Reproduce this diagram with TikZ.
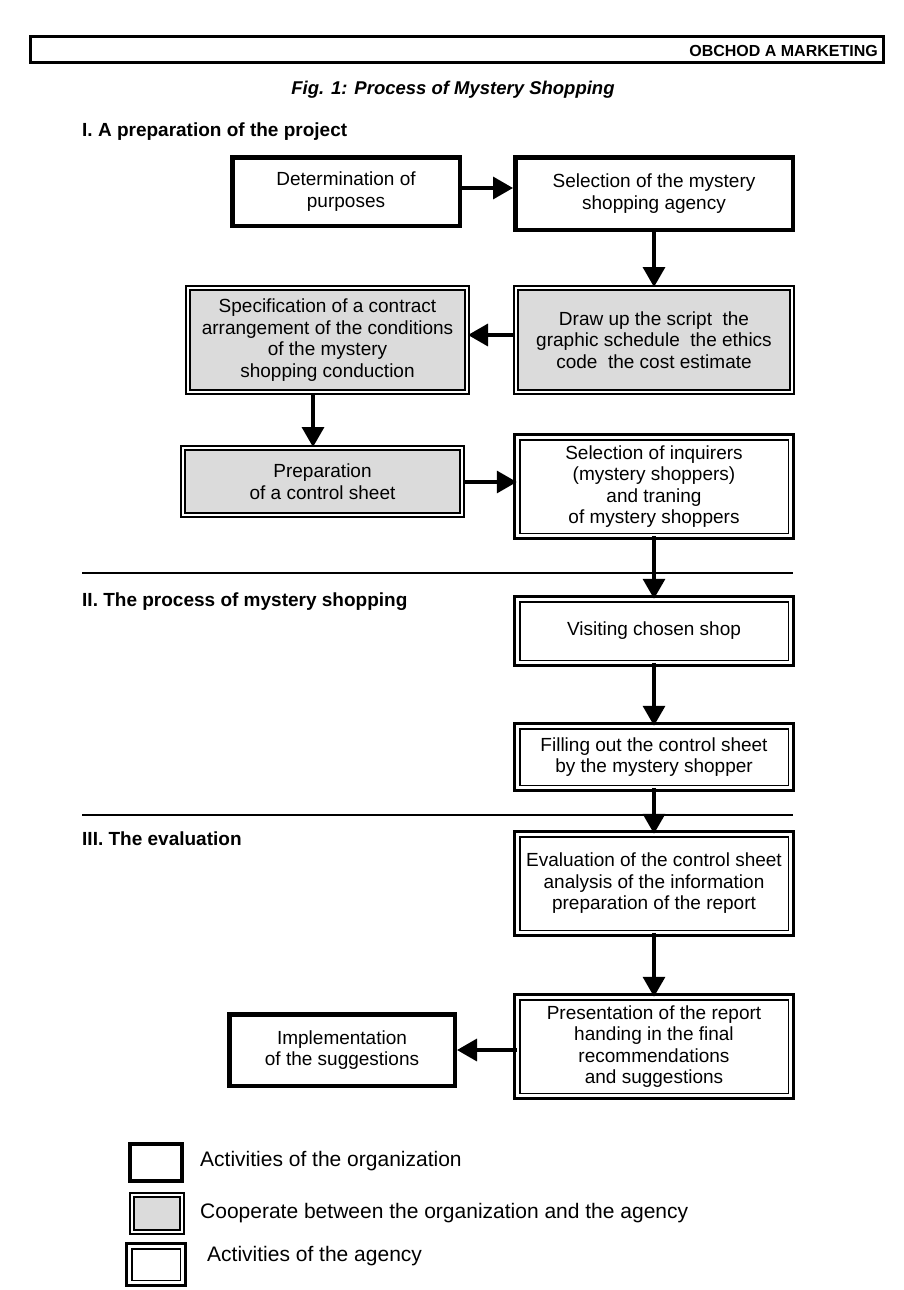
\documentclass[tikz,border=0pt]{standalone}
\usepackage{fontspec}
\setmainfont{Liberation Sans}
\usetikzlibrary{arrows.meta}
\begin{document}
\begin{tikzpicture}[x=1pt,y=-1pt,
  boxbase/.style={inner sep=0pt, align=center, font=\fontsize{19}{21.5}\selectfont},
  orgbox/.style={boxbase, draw=black, line width=4.5pt, fill=white},
  coopbox/.style={boxbase, draw=black, fill=gray!28, double=white, double distance=2pt, line width=2pt},
  agbox/.style={boxbase, draw=black, fill=white, double=white, double distance=3pt, line width=1.5pt,
     preaction={draw=black, line width=9pt}},
  arr/.style={line width=3.5pt, -{Triangle[length=20pt,width=22pt]}},
  sep/.style={line width=1.6pt},
  head/.style={font=\bfseries\fontsize{19}{22}\selectfont, anchor=west, inner sep=0pt},
  legtext/.style={font=\fontsize{21}{24}\selectfont, anchor=west, inner sep=0pt}
]
\useasboundingbox (0,0) rectangle (904,1290);

% header
\node[draw=black, line width=2.6pt, minimum width=853pt, minimum height=26pt, inner sep=0pt] (header) at (457,49.5) {};
\node[font=\bfseries\fontsize{16}{18}\selectfont, anchor=east, inner sep=0pt] (headtext) at (878,51) {OBCHOD A MARKETING};
\node[font=\bfseries\itshape\fontsize{18.5}{21}\selectfont, inner sep=0pt] (caption) at (453,90) {Fig. 1: Process of Mystery Shopping};

% section headings
\node[head] (h1) at (82,132) {I. A preparation of the project};
\node[head] (h2) at (82,602) {II. The process of mystery shopping};
\node[head] (h3) at (82,839) {III. The evaluation};

% separators
\coordinate (s1a) at (82,573); \coordinate (s1b) at (793,573);
\coordinate (s2a) at (82,815); \coordinate (s2b) at (793,815);
\draw[sep] (s1a) -- (s1b);
\draw[sep] (s2a) -- (s2b);

% boxes
\node[orgbox, minimum width=227.5pt, minimum height=68.5pt] (det) at (346,191.5) {Determination of\\purposes};
\node[orgbox, minimum width=277.5pt, minimum height=72.5pt] (sela) at (654,193.5) {Selection of the mystery\\shopping agency};
\node[coopbox, minimum width=276pt, minimum height=104pt] (drw) at (654,340) {Draw up the script\ \ the\\graphic schedule\ \ the ethics\\code\ \ the cost estimate};
\node[coopbox, minimum width=279pt, minimum height=104pt] (spec) at (327.5,340) {Specification of a contract\\arrangement of the conditions\\of the mystery\\shopping conduction};
\node[coopbox, minimum width=279pt, minimum height=67pt] (prep) at (322.5,481.5) {Preparation\\of a control sheet};
\node[agbox, minimum width=273pt, minimum height=98pt] (seli) at (654,486.5) {Selection of inquirers\\(mystery shoppers)\\and traning\\of mystery shoppers};
\node[agbox, minimum width=273pt, minimum height=63pt] (visit) at (654,631) {Visiting chosen shop};
\node[agbox, minimum width=273pt, minimum height=61pt] (fillo) at (654,757) {Filling out the control sheet\\by the mystery shopper};
\node[agbox, minimum width=273pt, minimum height=98pt] (eval) at (654,883.5) {Evaluation of the control sheet\\analysis of the information\\preparation of the report};
\node[agbox, minimum width=273pt, minimum height=98pt] (pres) at (654,1046.5) {Presentation of the report\\handing in the final\\recommendations\\and suggestions};
\node[orgbox, minimum width=225.5pt, minimum height=71.5pt] (impl) at (342,1050) {Implementation\\of the suggestions};

% arrows
\coordinate (ax) at (654,0);
\coordinate (sx) at (313,0);
\coordinate (y1) at (0,188);
\coordinate (y2) at (0,335);
\coordinate (y3) at (0,482);
\coordinate (y4) at (0,1050);
\draw[arr] (det.east |- y1) -- (sela.west |- y1);
\draw[arr] (sela.south -| ax) -- (drw.north -| ax);
\draw[arr] (drw.west |- y2) -- (spec.east |- y2);
\draw[arr] (spec.south -| sx) -- (prep.north -| sx);
\draw[arr] (prep.east |- y3) -- (seli.west |- y3);
\draw[arr] (seli.south -| ax) -- (visit.north -| ax);
\draw[arr] (visit.south -| ax) -- (fillo.north -| ax);
\draw[arr] (fillo.south -| ax) -- (eval.north -| ax);
\draw[arr] (eval.south -| ax) -- (pres.north -| ax);
\draw[arr] (pres.west |- y4) -- (impl.east |- y4);

% legend
\node[orgbox, minimum width=52pt, minimum height=37pt] (leg1) at (156,1162.5) {};
\node[coopbox, minimum width=50pt, minimum height=37pt] (leg2) at (157,1213.5) {};
\node[agbox, minimum width=53pt, minimum height=36pt] (leg3) at (156,1264.5) {};
\node[legtext] (lt1) at (200,1161) {Activities of the organization};
\node[legtext] (lt2) at (200,1213) {Cooperate between the organization and the agency};
\node[legtext] (lt3) at (207,1256) {Activities of the agency};
\end{tikzpicture}
\end{document}
